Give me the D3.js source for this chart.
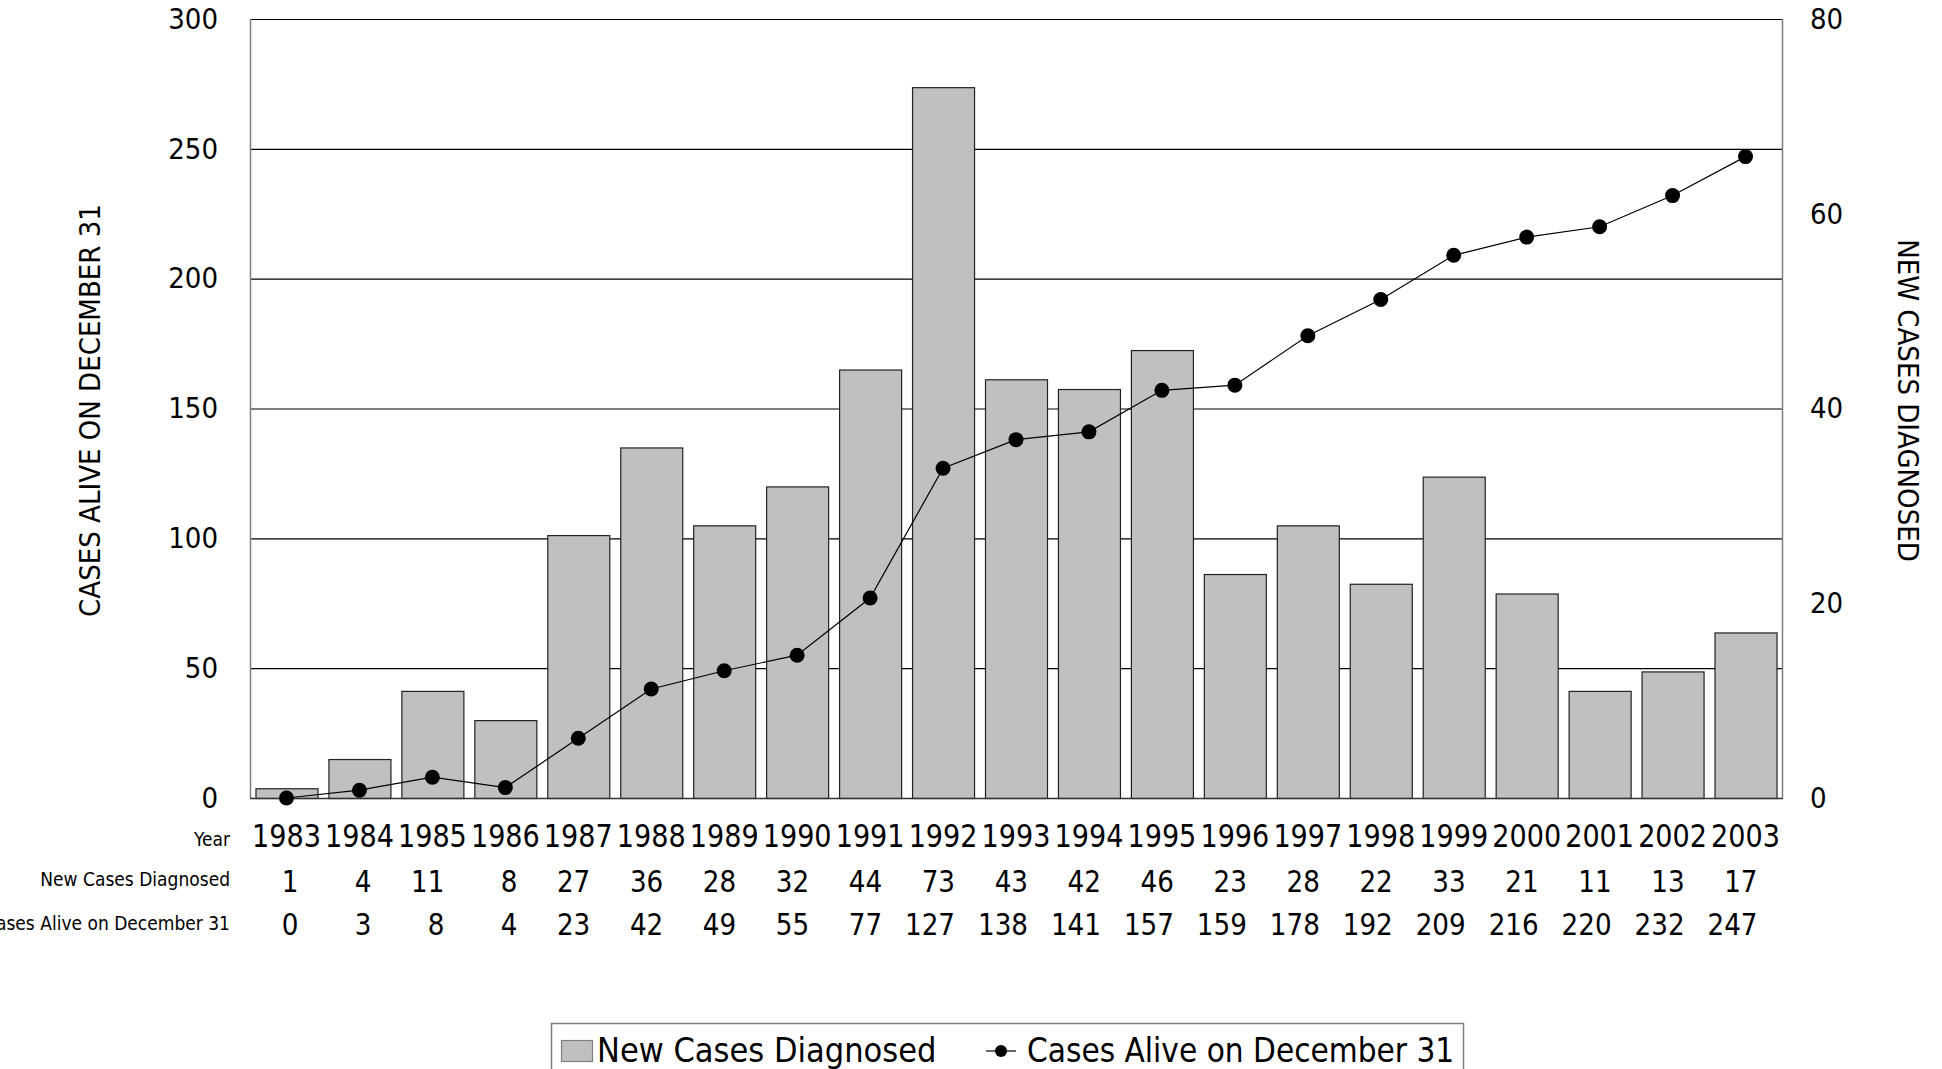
<!DOCTYPE html>
<html>
<head>
<meta charset="utf-8">
<script src="https://cdn.jsdelivr.net/npm/d3@7"></script>
<style>
  html, body { margin: 0; padding: 0; background: #fff; }
  svg { display: block; }
  text {
    font-family: "DejaVu Sans Condensed", "DejaVu Sans", sans-serif;
    font-stretch: semi-condensed;
    fill: #000;
  }
</style>
</head>
<body>
<svg id="chart" width="1942" height="1069"></svg>
<script>
const years = [1983, 1984, 1985, 1986, 1987, 1988, 1989, 1990, 1991, 1992, 1993, 1994, 1995, 1996, 1997, 1998, 1999, 2000, 2001, 2002, 2003];
const newCases = [1, 4, 11, 8, 27, 36, 28, 32, 44, 73, 43, 42, 46, 23, 28, 22, 33, 21, 11, 13, 17];
const casesAlive = [0, 3, 8, 4, 23, 42, 49, 55, 77, 127, 138, 141, 157, 159, 178, 192, 209, 216, 220, 232, 247];
const leftTicks = [0, 50, 100, 150, 200, 250, 300];
const rightTicks = [0, 20, 40, 60, 80];
const rowLabels = ["Year", "New Cases Diagnosed", "Cases Alive on December 31"];

const svg = d3.select("#chart");

const plot = { left: 250, right: 1782, top: 19, bottom: 798 };

const x = d3
  .scaleBand()
  .domain(years)
  .range([plot.left, plot.right])
  .paddingInner(0.15)
  .paddingOuter(0.075);

const yLeft = d3.scaleLinear().domain([0, 300]).range([plot.bottom, plot.top]);
const yRight = d3.scaleLinear().domain([0, 80]).range([plot.bottom, plot.top]);

const center = (year) => x(year) + x.bandwidth() / 2;

// gridlines (left scale)
svg
  .append("g")
  .selectAll("line")
  .data(leftTicks.filter((t) => t > 0))
  .join("line")
  .attr("x1", plot.left)
  .attr("x2", plot.right)
  .attr("y1", (d) => yLeft(d) + 0.5)
  .attr("y2", (d) => yLeft(d) + 0.5)
  .attr("stroke", "#000")
  .attr("stroke-width", 1.2);

// frame sides
[plot.left, plot.right].forEach((xPos) => {
  svg
    .append("line")
    .attr("x1", xPos + 0.5)
    .attr("x2", xPos + 0.5)
    .attr("y1", plot.top)
    .attr("y2", plot.bottom)
    .attr("stroke", "#808080")
    .attr("stroke-width", 1.5);
});

// bars (right scale)
svg
  .append("g")
  .selectAll("rect")
  .data(years)
  .join("rect")
  .attr("x", (d) => x(d) + 0.5)
  .attr("y", (d, i) => yRight(newCases[i]) + 0.5)
  .attr("width", x.bandwidth())
  .attr("height", (d, i) => plot.bottom - yRight(newCases[i]))
  .attr("fill", "#c0c0c0")
  .attr("stroke", "#222")
  .attr("stroke-width", 1.2);

// baseline
svg
  .append("line")
  .attr("x1", plot.left)
  .attr("x2", plot.right + 1)
  .attr("y1", plot.bottom + 0.5)
  .attr("y2", plot.bottom + 0.5)
  .attr("stroke", "#333")
  .attr("stroke-width", 1.5);

// line (left scale)
const line = d3
  .line()
  .x((d) => center(d))
  .y((d, i) => yLeft(casesAlive[i]));

svg
  .append("path")
  .datum(years)
  .attr("d", line)
  .attr("fill", "none")
  .attr("stroke", "#000")
  .attr("stroke-width", 1.2);

svg
  .append("g")
  .selectAll("circle")
  .data(years)
  .join("circle")
  .attr("cx", (d) => center(d))
  .attr("cy", (d, i) => yLeft(casesAlive[i]))
  .attr("r", 7.5)
  .attr("fill", "#000");

// axis labels
const leftAxis = d3.axisLeft(yLeft).tickValues(leftTicks).tickSize(0).tickPadding(32);
const gLeft = svg.append("g").attr("transform", `translate(${plot.left},0)`).call(leftAxis);
gLeft.select(".domain").remove();
gLeft.selectAll("text").attr("font-size", 29).style("font-family", null);

const rightAxis = d3.axisRight(yRight).tickValues(rightTicks).tickSize(0).tickPadding(28);
const gRight = svg.append("g").attr("transform", `translate(${plot.right},0)`).call(rightAxis);
gRight.select(".domain").remove();
gRight.selectAll("text").attr("font-size", 29).style("font-family", null);

// axis titles
svg
  .append("text")
  .attr("transform", `translate(100,${(plot.top + plot.bottom) / 2 + 2}) rotate(-90)`)
  .attr("text-anchor", "middle")
  .attr("font-size", 29)
  .text("CASES ALIVE ON DECEMBER 31");

svg
  .append("text")
  .attr("transform", `translate(1898,${(plot.top + plot.bottom) / 2 - 8}) rotate(90)`)
  .attr("text-anchor", "middle")
  .attr("font-size", 29)
  .text("NEW CASES DIAGNOSED");

// data table under the chart
const rowBaselines = [847, 892, 935];
const labelBaselines = [846, 886, 930];

svg
  .append("g")
  .selectAll("text")
  .data(rowLabels)
  .join("text")
  .attr("x", 230)
  .attr("y", (d, i) => labelBaselines[i])
  .attr("text-anchor", "end")
  .attr("font-size", 19)
  .text((d) => d);

svg
  .append("g")
  .selectAll("text")
  .data(years)
  .join("text")
  .attr("transform", (d) => `translate(${center(d)},${rowBaselines[0]}) scale(0.94,1)`)
  .attr("text-anchor", "middle")
  .attr("font-size", 32)
  .text((d) => d);

[newCases, casesAlive].forEach((values, r) => {
  svg
    .append("g")
    .selectAll("text")
    .data(values)
    .join("text")
    .attr("transform", (d, i) => `translate(${center(years[i]) + 12},${rowBaselines[r + 1]}) scale(0.94,1)`)
    .attr("text-anchor", "end")
    .attr("font-size", 31)
    .text((d) => d);
});

// legend
const legend = svg.append("g");
legend
  .append("rect")
  .attr("x", 551.5)
  .attr("y", 1023.5)
  .attr("width", 912)
  .attr("height", 60)
  .attr("fill", "#fff")
  .attr("stroke", "#808080")
  .attr("stroke-width", 1.5);
legend
  .append("rect")
  .attr("x", 561.5)
  .attr("y", 1040.5)
  .attr("width", 31)
  .attr("height", 21)
  .attr("fill", "#c0c0c0")
  .attr("stroke", "#808080")
  .attr("stroke-width", 1.2);
legend
  .append("text")
  .attr("x", 597)
  .attr("y", 1062)
  .attr("font-size", 34)
  .text("New Cases Diagnosed");
legend
  .append("line")
  .attr("x1", 986)
  .attr("x2", 1016)
  .attr("y1", 1051)
  .attr("y2", 1051)
  .attr("stroke", "#000")
  .attr("stroke-width", 1.2);
legend
  .append("circle")
  .attr("cx", 1001)
  .attr("cy", 1051)
  .attr("r", 6)
  .attr("fill", "#000");
legend
  .append("text")
  .attr("x", 1027)
  .attr("y", 1062)
  .attr("font-size", 33)
  .text("Cases Alive on December 31");
</script>
</body>
</html>
